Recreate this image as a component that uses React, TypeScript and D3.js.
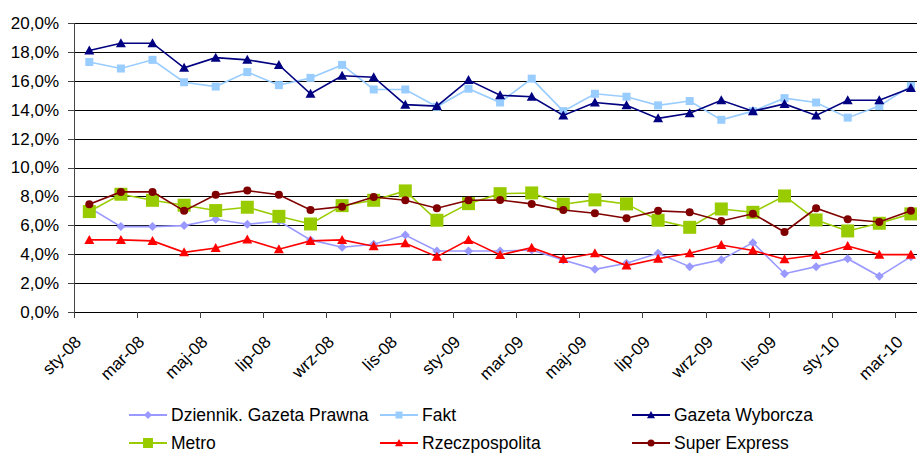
import * as d3 from "d3";

// months sty-08 .. mar-10
const monthNames = ["sty", "lut", "mar", "kwi", "maj", "cze", "lip", "sie", "wrz", "paź", "lis", "gru"];
const months: string[] = [];
for (let i = 0; i < 27; i++) {
  months.push(monthNames[i % 12] + "-" + String(8 + Math.floor(i / 12)).padStart(2, "0"));
}

const yTicks = [0, 2, 4, 6, 8, 10, 12, 14, 16, 18, 20];

const dziennik = [7.22, 5.91, 5.91, 5.98, 6.42, 6.07, 6.3, 4.99, 4.48, 4.69, 5.33, 4.22, 4.22, 4.22, 4.29, 3.6, 2.95, 3.37, 4.06, 3.14, 3.62, 4.8, 2.65, 3.14, 3.69, 2.47, 3.83];
const fakt = [17.3, 16.85, 17.45, 15.9, 15.6, 16.6, 15.7, 16.2, 17.1, 15.4, 15.4, 14.2, 15.45, 14.5, 16.15, 13.9, 15.1, 14.9, 14.3, 14.6, 13.3, 13.9, 14.8, 14.5, 13.45, 14.25, 15.65];
const wyborcza = [18.1, 18.6, 18.6, 16.9, 17.6, 17.45, 17.1, 15.1, 16.35, 16.25, 14.35, 14.25, 16.05, 15.0, 14.9, 13.6, 14.5, 14.3, 13.4, 13.75, 14.65, 13.9, 14.4, 13.6, 14.65, 14.65, 15.5];
const metro = [6.95, 8.15, 7.73, 7.39, 7.02, 7.25, 6.62, 6.09, 7.36, 7.73, 8.38, 6.35, 7.5, 8.19, 8.24, 7.46, 7.76, 7.48, 6.35, 5.86, 7.13, 6.9, 8.03, 6.37, 5.61, 6.14, 6.79];
const rzeczpospolita = [4.99, 4.99, 4.92, 4.13, 4.43, 5.01, 4.34, 4.92, 4.99, 4.55, 4.75, 3.83, 4.99, 3.95, 4.45, 3.67, 4.06, 3.21, 3.69, 4.06, 4.64, 4.25, 3.65, 3.95, 4.57, 3.97, 3.97];
const superExpress = [7.46, 8.31, 8.31, 7.0, 8.12, 8.4, 8.12, 7.06, 7.29, 7.96, 7.73, 7.18, 7.73, 7.75, 7.48, 7.06, 6.83, 6.49, 7.0, 6.9, 6.3, 6.8, 5.54, 7.18, 6.42, 6.23, 7.0];

type Shape = "diamond" | "square" | "triangle" | "circle";

const series = [
  { name: "Dziennik. Gazeta Prawna", values: dziennik, color: "#9999FF", shape: "diamond" as Shape, size: 9, legendSize: 8 },
  { name: "Fakt", values: fakt, color: "#99CCFF", shape: "square" as Shape, size: 8, legendSize: 7 },
  { name: "Gazeta Wyborcza", values: wyborcza, color: "#000080", shape: "triangle" as Shape, size: 10, legendSize: 8 },
  { name: "Metro", values: metro, color: "#99CC00", shape: "square" as Shape, size: 13, legendSize: 10 },
  { name: "Rzeczpospolita", values: rzeczpospolita, color: "#FF0000", shape: "triangle" as Shape, size: 10, legendSize: 8 },
  { name: "Super Express", values: superExpress, color: "#800000", shape: "circle" as Shape, size: 8, legendSize: 7 },
];

function markerPath(shape: Shape, s: number) {
  const h = s / 2;
  if (shape === "square") return `M${-h},${-h}H${h}V${h}H${-h}Z`;
  if (shape === "diamond") return `M0,${-h}L${h},0L0,${h}L${-h},0Z`;
  if (shape === "triangle") return `M0,${-h}L${h},${h * 0.8}L${-h},${h * 0.8}Z`;
  return d3.arc()({ innerRadius: 0, outerRadius: h, startAngle: 0, endAngle: 2 * Math.PI }) as string;
}

export default function App() {
  const width = 917;
  const height = 453;
  const font = "'Liberation Sans', Arial, sans-serif";

  const x = d3.scaleBand().domain(months).range([73.5, 926.7]);
  const y = d3.scaleLinear().domain([0, 20]).range([312, 23]);
  const cx = (m: string) => (x(m) as number) + x.bandwidth() / 2;

  const line = d3
    .line<number>()
    .x((_, i) => cx(months[i]))
    .y((d) => y(d));

  const tickIdx = months.map((_, i) => i).filter((i) => i % 2 === 0);

  return (
    <svg width={width} height={height} style={{ position: "absolute", left: 0, top: 0 }} fontFamily={font}>
      <rect width={width} height={height} fill="#fff" />
      {/* gridlines */}
      {yTicks.map((t) => (
        <line key={t} x1={74} x2={width} y1={Math.round(y(t)) + 0.5} y2={Math.round(y(t)) + 0.5} stroke="#000" strokeWidth={1} />
      ))}
      {/* y axis */}
      <line x1={74.5} x2={74.5} y1={y(20)} y2={y(0)} stroke="#444" />
      {yTicks.map((t) => (
        <g key={t}>
          <line x1={68} x2={74} y1={Math.round(y(t)) + 0.5} y2={Math.round(y(t)) + 0.5} stroke="#444" />
          <text x={59} y={y(t)} dy="0.35em" textAnchor="end" fontSize={17} fill="#000">
            {t.toFixed(1).replace(".", ",") + "%"}
          </text>
        </g>
      ))}
      {/* x axis ticks and labels */}
      {tickIdx.map((i) => (
        <line key={"t" + i} x1={Math.round(x(months[i]) as number) + 0.5} x2={Math.round(x(months[i]) as number) + 0.5} y1={312} y2={318} stroke="#444" />
      ))}
      {tickIdx.map((i) => (
        <text
          key={"l" + i}
          transform={`translate(${cx(months[i]) - 7},${343}) rotate(-45)`}
          textAnchor="end"
          fontSize={17}
          fill="#000"
        >
          {months[i]}
        </text>
      ))}
      {/* series */}
      {series.map((s) => (
        <g key={s.name}>
          <path d={line(s.values) as string} fill="none" stroke={s.color} strokeWidth={1.6} />
          {s.values.map((v, i) => (
            <path key={i} d={markerPath(s.shape, s.size)} transform={`translate(${cx(months[i])},${y(v)})`} fill={s.color} />
          ))}
        </g>
      ))}
      {/* legend */}
      {series.map((s, i) => {
        const lx = [129, 380, 632][i % 3];
        const ly = i < 3 ? 415 : 443;
        return (
          <g key={"lg" + s.name} transform={`translate(${lx},${ly})`}>
            <line x1={0} x2={38} y1={0} y2={0} stroke={s.color} strokeWidth={2} />
            <path d={markerPath(s.shape, s.legendSize)} transform="translate(19,0)" fill={s.color} />
            <text x={42} y={0} dy="0.35em" fontSize={17.5} fill="#000">
              {s.name}
            </text>
          </g>
        );
      })}
    </svg>
  );
}
